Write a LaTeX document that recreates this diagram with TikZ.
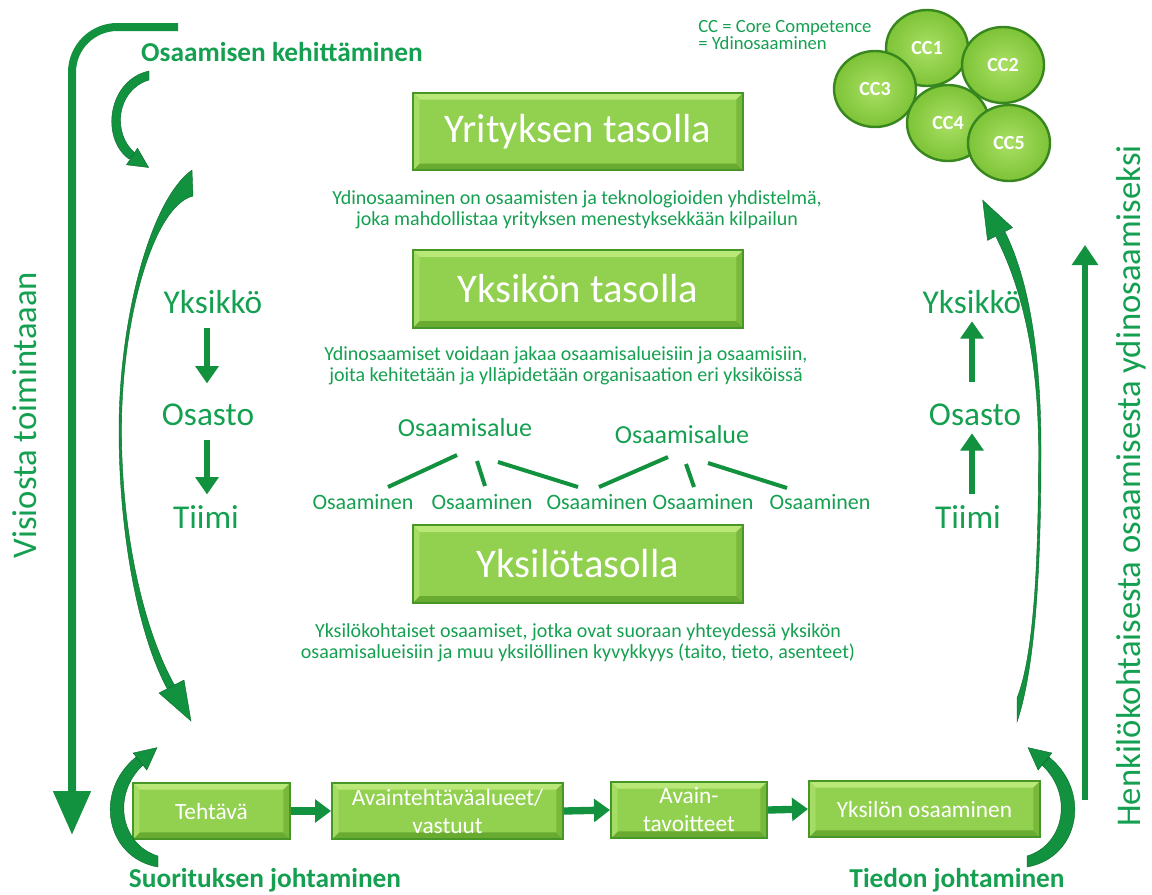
\documentclass[tikz,border=0pt]{standalone}
\usepackage{fontspec}
\setmainfont{Carlito}
\usetikzlibrary{arrows.meta,shapes.geometric}
\definecolor{tgreen}{RGB}{20,160,80}
\definecolor{agreen}{RGB}{18,145,62}
\definecolor{adark}{RGB}{8,105,42}
\definecolor{boxfill}{RGB}{146,208,80}
\definecolor{boxlight}{RGB}{185,232,120}
\definecolor{boxlightl}{RGB}{165,220,100}
\definecolor{boxdark}{RGB}{105,170,48}
\definecolor{boxmid}{RGB}{120,185,60}
\definecolor{boxedge}{RGB}{70,150,40}
\definecolor{ccfill}{RGB}{125,195,55}
\definecolor{cclight}{RGB}{170,224,100}
\definecolor{ccedge}{RGB}{55,135,30}
\begin{document}
\begin{tikzpicture}[x=0.75pt,y=-0.75pt,
  bevelbox/.style={draw=boxedge, line width=1.5pt, fill=boxfill, text=white,
    inner sep=0pt, align=center,
    path picture={
      \fill[boxlight] (path picture bounding box.north west) -- (path picture bounding box.north east)
        -- ([shift={(-5pt,-5pt)}]path picture bounding box.north east) -- ([shift={(5pt,-5pt)}]path picture bounding box.north west) -- cycle;
      \fill[boxdark] (path picture bounding box.south west) -- (path picture bounding box.south east)
        -- ([shift={(-5pt,5pt)}]path picture bounding box.south east) -- ([shift={(5pt,5pt)}]path picture bounding box.south west) -- cycle;
      \fill[boxmid] (path picture bounding box.north east) -- (path picture bounding box.south east)
        -- ([shift={(-5pt,5pt)}]path picture bounding box.south east) -- ([shift={(-5pt,-5pt)}]path picture bounding box.north east) -- cycle;
      \fill[boxlightl] (path picture bounding box.north west) -- (path picture bounding box.south west)
        -- ([shift={(5pt,5pt)}]path picture bounding box.south west) -- ([shift={(5pt,-5pt)}]path picture bounding box.north west) -- cycle;
    }},
  bigbox/.style={bevelbox, minimum width=247.5pt, minimum height=58pt, font=\fontsize{30.5}{32}\selectfont},
  flowbox/.style={bevelbox, minimum height=42pt, font=\fontsize{17.5}{21}\selectfont},
  desc/.style={text=tgreen, align=center, font=\fontsize{15}{15.5}\selectfont, inner sep=0pt},
  headlbl/.style={text=tgreen, font=\bfseries\fontsize{20.5}{22}\selectfont, inner sep=0pt},
  sidelbl/.style={text=tgreen, font=\fontsize{25}{27}\selectfont, inner sep=0pt, text height=15pt, text depth=0pt, anchor=base},
  vertlbl/.style={text=tgreen, font=\fontsize{26}{28}\selectfont, rotate=90, inner sep=0pt},
  arealbl/.style={text=tgreen, font=\fontsize{19.5}{21}\selectfont, inner sep=0pt},
  complbl/.style={text=tgreen, font=\fontsize{16.5}{18}\selectfont, inner sep=0pt},
  sarrow/.style={draw=agreen, line width=5pt, -{Triangle[length=13pt,width=17pt]}},
  flowarrow/.style={draw=agreen, line width=5.5pt, -{Triangle[length=12pt,width=17pt]}},
  branch/.style={draw=agreen, line width=3pt},
  swoosh/.style={fill=agreen, draw=adark, line width=0.3pt},
  ccball/.style={ellipse, minimum width=61.5pt, minimum height=57pt, inner sep=0pt,
    draw=ccedge, line width=1.8pt, inner color=cclight, outer color=ccfill,
    text=white, font=\bfseries\fontsize{15}{16}\selectfont}
]
\useasboundingbox (0,0) rectangle (1152,894);

% ---------- central level boxes ----------
\node[bigbox] (yritys) at (578,131.5) {Yrityksen tasolla};
\node[desc] (d1) at (577,210) {Ydinosaaminen on osaamisten ja teknologioiden yhdistelmä,\\joka mahdollistaa yrityksen menestyksekkään kilpailun};
\node[bigbox] (yksikon) at (578,289) {Yksikön tasolla};
\node[desc] (d2) at (566,366) {Ydinosaamiset voidaan jakaa osaamisalueisiin ja osaamisiin,\\joita kehitetään ja ylläpidetään organisaation eri yksiköissä};
\node[bigbox] (yksilo) at (578,564) {Yksilötasolla};
\node[desc] (d3) at (578,643) {Yksilökohtaiset osaamiset, jotka ovat suoraan yhteydessä yksikön\\osaamisalueisiin ja muu yksilöllinen kyvykkyys (taito, tieto, asenteet)};

% ---------- competence tree ----------
\node[arealbl] (oa1) at (465,428) {Osaamisalue};
\node[arealbl] (oa2) at (682,435) {Osaamisalue};
\node[complbl] (om1) at (363,502) {Osaaminen};
\node[complbl] (om2) at (482,502) {Osaaminen};
\node[complbl] (om3) at (597,502) {Osaaminen};
\node[complbl] (om4) at (703,502) {Osaaminen};
\node[complbl] (om5) at (820,502) {Osaaminen};
\draw[branch] ([shift={(-8,27)}]oa1.center) -- ([shift={(25,-15)}]om1.center);
\draw[branch] ([shift={(12,33)}]oa1.center) -- ([shift={(3,-16)}]om2.center);
\draw[branch] ([shift={(33,34)}]oa1.center) -- ([shift={(-19,-15)}]om3.center);
\draw[branch] ([shift={(-14,22)}]oa2.center) -- ([shift={(2,-15)}]om3.center);
\draw[branch] ([shift={(4,29)}]oa2.center) -- ([shift={(-9,-15)}]om4.center);
\draw[branch] ([shift={(26,28)}]oa2.center) -- ([shift={(-33,-14)}]om5.center);

% ---------- left column ----------
\node[sidelbl] (lyks) at (213,313) {Yksikkö};
\node[sidelbl] (losa) at (208,425) {Osasto};
\node[sidelbl] (ltii) at (206,528) {Tiimi};
\draw[sarrow, shorten <=11pt, shorten >=16pt] (lyks.south -| 207,0) -- (losa.north -| 207,0);
\draw[sarrow, shorten <=11pt, shorten >=10pt] (losa.south -| 207,0) -- (ltii.north -| 207,0);

% ---------- right column ----------
\node[sidelbl] (ryks) at (972,313) {Yksikkö};
\node[sidelbl] (rosa) at (975,425) {Osasto};
\node[sidelbl] (rtii) at (968,528) {Tiimi};
\draw[sarrow, shorten <=17pt, shorten >=6pt] (rosa.north -| 972,0) -- (ryks.south -| 972,0);
\draw[sarrow, shorten <=10pt, shorten >=6pt] (rtii.north -| 972,0) -- (rosa.south -| 972,0);

% ---------- bottom flow ----------
\node[flowbox, minimum width=117.75pt] (b1) at (211.5,811) {Tehtävä};
\node[flowbox, minimum width=173.25pt] (b2) at (447.5,811) {Avaintehtäväalueet/\\vastuut};
\node[flowbox, minimum width=117pt] (b3) at (689,810) {Avain-\\tavoitteet};
\node[flowbox, minimum width=173.25pt] (b4) at (924.5,809) {Yksilön osaaminen};
\draw[flowarrow] (b1.east) -- (b2.west);
\draw[flowarrow] (b2.east) -- (b3.west);
\draw[flowarrow] (b3.east) -- (b4.west);

% ---------- labels ----------
\node[headlbl] (kehit) at (282,52) {Osaamisen kehittäminen};
\node[headlbl] (suor) at (265,880) {Suorituksen johtaminen};
\node[headlbl] (tied) at (957,880) {Tiedon johtaminen};
\node[vertlbl] (visio) at (25,415) {Visiosta toimintaaan};
\node[vertlbl] (henk) at (1131,486) {Henkilökohtaisesta osaamisesta ydinosaamiseksi};

% ---------- long arrows ----------
\coordinate (vstart) at (178,27);
\coordinate (vend) at (72,835);
\draw[draw=agreen, line width=6pt, rounded corners=34pt, -{Triangle[length=33pt,width=27pt]}] (vstart) -- (vstart -| vend) -- (vend);
\coordinate (hstart) at (1085,800);
\coordinate (hend) at (1085,245);
\draw[draw=agreen, line width=4.5pt, -{Triangle[length=15pt,width=19pt]}] (hstart) -- (hend);

% ---------- swoosh arrows ----------
% top-left small
\fill[swoosh] (149,71) .. controls (108,80) and (100,138) .. (129,159) -- (135,153) .. controls (112,134) and (116,90) .. (149,80) -- cycle;
\fill[swoosh] (137.5,148.2) -- (148.6,167.5) -- (126.5,164.8) -- cycle;
% left crescent
\fill[swoosh] (192,170) .. controls (150,200) and (119,320) .. (119,430) .. controls (119,540) and (140,640) .. (168,690)
  -- (175,686) .. controls (146,635) and (121.5,540) .. (121.5,430) .. controls (121.5,320) and (153,206) .. (193,196) -- cycle;
\fill[swoosh] (184,680) -- (191,721) -- (159,693) -- cycle;
% bottom-left small
\fill[swoosh] (158,867) .. controls (106,858) and (93,792) .. (136,757) -- (143,765) .. controls (111,795) and (121,845) .. (158,856) -- cycle;
\fill[swoosh] (146.9,770) -- (157,747.6) -- (133.1,753) -- cycle;
% right crescent
\fill[swoosh] (1017,722) .. controls (1038,660) and (1041,540) .. (1041,450) .. controls (1041,350) and (1028,278) .. (1005,232)
  -- (996,237) .. controls (1019,282) and (1038.5,350) .. (1038.5,450) .. controls (1038.5,540) and (1036,650) .. (1017,698) -- cycle;
\fill[swoosh] (1012.5,227.6) -- (982.7,200.2) -- (987.5,240.4) -- cycle;
% bottom-right small
\fill[swoosh] (1027,867) .. controls (1079,858) and (1092,792) .. (1049,757) -- (1042,765) .. controls (1074,795) and (1064,845) .. (1027,856) -- cycle;
\fill[swoosh] (1038.1,770) -- (1028,747.6) -- (1051.9,753) -- cycle;

% ---------- core competences ----------
\node[text=tgreen, font=\fontsize{14}{12.5}\selectfont, align=left, anchor=west, inner sep=0pt] (ccleg) at (698,35) {CC = Core Competence\\= Ydinosaaminen};
\node[ccball] (cc1) at (927,48) {CC1};
\node[ccball] (cc2) at (1003,65) {CC2};
\node[ccball] (cc3) at (875,89) {CC3};
\node[ccball] (cc4) at (948,123) {CC4};
\node[ccball] (cc5) at (1009,143) {CC5};
\end{tikzpicture}
\end{document}
